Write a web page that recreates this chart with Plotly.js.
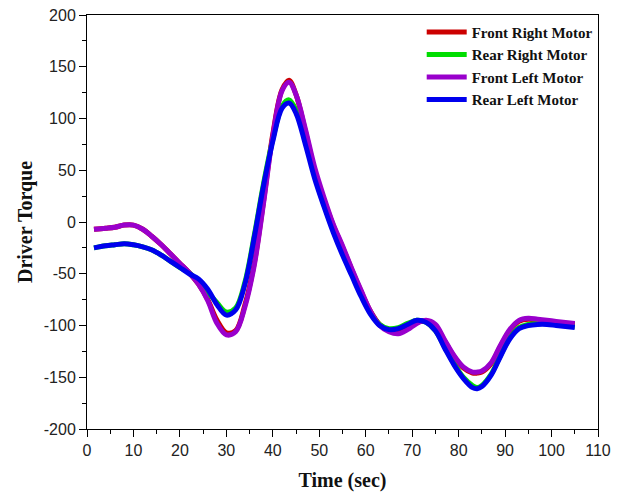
<!DOCTYPE html>
<html>
<head>
<meta charset="utf-8">
<script src="https://cdn.plot.ly/plotly-3.0.1.min.js"></script>
<style>html,body{margin:0;padding:0;background:#fff;}#chart{width:626px;height:493px;}</style>
</head>
<body>
<div id="chart"></div>
<script>
const time = [1.5, 4, 6, 8, 10, 12, 14, 16, 18, 20, 22, 24, 26, 28, 30, 32, 34, 36, 38, 40, 42, 43.5, 45, 47, 49, 51, 53, 55, 57, 59, 61, 63, 65, 67, 69, 71, 73, 75, 77, 79, 81, 83, 84, 85, 87, 89, 91, 93, 95, 97, 99, 101, 103, 105];

const frontRight = [-7, -6, -5, -3, -3, -7, -14, -22, -31, -40, -49, -60, -75, -95, -107, -105, -80, -40, 20, 85, 128, 137, 123, 88, 50, 22, -3, -24, -46, -67, -86, -99, -105, -107, -103, -97, -96, -100, -115, -130, -141, -146, -146, -145, -137, -120, -105, -96, -94, -95, -96, -97, -98, -99];

const rearRight = [-25, -23, -22, -21, -22, -24, -27, -32, -38, -44, -49, -58, -68, -78, -87, -83, -58, -13, 37, 80, 112, 118, 108, 78, 45, 17, -8, -30, -50, -70, -87, -99, -103, -102, -98, -95, -97, -105, -121, -137, -150, -158, -160, -158, -147, -129, -112, -102, -99, -98, -98, -99, -100, -101];

const frontLeft = [-7, -6, -5, -3, -3, -7, -14, -22, -31, -40, -49, -60, -76, -98, -109, -106, -82, -42, 18, 83, 127, 135, 123, 90, 53, 24, -2, -23, -45, -66, -86, -100, -106, -108, -104, -98, -95, -99, -114, -129, -140, -145, -145, -144, -136, -119, -104, -95, -93, -94, -95, -96, -97, -98];

const rearLeft = [-25, -23, -22, -21, -22, -24, -27, -32, -38, -44, -50, -55, -65, -80, -90, -85, -60, -15, 35, 78, 110, 115, 105, 75, 42, 15, -10, -32, -52, -72, -89, -100, -104, -103, -99, -95, -97, -105, -122, -138, -151, -160, -161, -159, -148, -130, -113, -103, -100, -99, -99, -100, -101, -102];

const seriesNames = ['Front Right Motor', 'Rear Right Motor', 'Front Left Motor', 'Rear Left Motor'];
const seriesValues = [frontRight, rearRight, frontLeft, rearLeft];
const seriesColors = ['#cc0000', '#00dd00', '#9900cc', '#0000ee'];

const xTicks = [0, 10, 20, 30, 40, 50, 60, 70, 80, 90, 100, 110];
const yTicks = [-200, -150, -100, -50, 0, 50, 100, 150, 200];

const traces = seriesNames.map((name, i) => ({
  x: time,
  y: seriesValues[i],
  name: name,
  type: 'scatter',
  mode: 'lines',
  line: {color: seriesColors[i], width: 5, shape: 'spline', smoothing: 1},
}));

const tickFont = {family: 'Liberation Sans, Arial, sans-serif', size: 16, color: '#222'};
const titleFont = {family: 'Liberation Serif, Times New Roman, serif', size: 20, color: '#111', weight: 'bold'};

const layout = {
  width: 626,
  height: 493,
  margin: {l: 87, r: 28, t: 15, b: 64},
  paper_bgcolor: '#fff',
  plot_bgcolor: '#fff',
  showlegend: true,
  legend: {
    x: 0.655, y: 0.998, xanchor: 'left', yanchor: 'top',
    bgcolor: 'rgba(0,0,0,0)',
    font: {family: 'Liberation Serif, Times New Roman, serif', size: 15, color: '#111', weight: 'bold'},
    itemwidth: 40,
    tracegroupgap: 0,
  },
  xaxis: {
    range: [0, 110],
    tickvals: xTicks,
    ticktext: xTicks.map(String),
    ticks: 'outside', ticklen: 7, tickwidth: 1, tickcolor: '#000',
    minor: {ticks: 'outside', dtick: 5, ticklen: 4, tickcolor: '#000'},
    showline: true, linecolor: '#000', linewidth: 1, mirror: true,
    showgrid: false, zeroline: false,
    tickfont: tickFont,
    title: {text: 'Time (sec)', font: titleFont, standoff: 14},
  },
  yaxis: {
    range: [-200, 200],
    tickvals: yTicks,
    ticktext: yTicks.map(String),
    ticks: 'outside', ticklen: 7, tickwidth: 1, tickcolor: '#000',
    minor: {ticks: 'outside', dtick: 25, ticklen: 4, tickcolor: '#000'},
    showline: true, linecolor: '#000', linewidth: 1, mirror: true,
    showgrid: false, zeroline: false,
    tickfont: tickFont,
    title: {text: 'Driver Torque', font: titleFont, standoff: 5},
  },
};

Plotly.newPlot('chart', traces, layout, {displayModeBar: false, staticPlot: true});
</script>
</body>
</html>
